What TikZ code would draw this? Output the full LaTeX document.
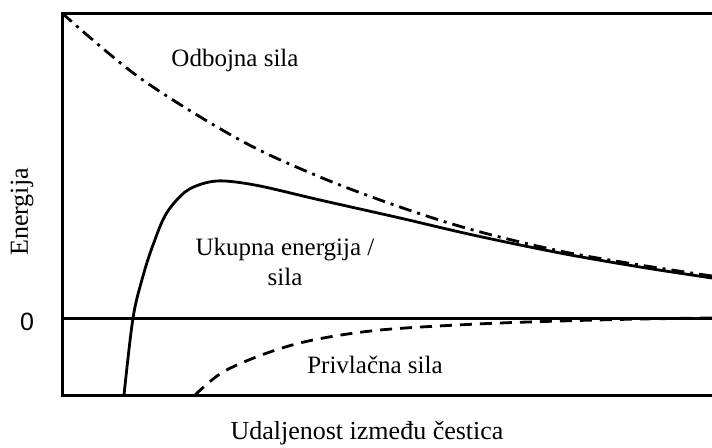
\documentclass[tikz,border=0pt]{standalone}
\usepackage{fontspec}
\setmainfont{Liberation Serif}
\newfontfamily\zerofont{Liberation Sans}
\usepackage{tikz}

\begin{document}
\begin{tikzpicture}[x=0.5pt, y=-0.5pt,
    frame/.style = {line width=1.5pt},
    curve/.style = {line width=1.4pt, smooth, tension=0.55},
    dashdot/.style = {dash pattern=on 6.5pt off 3pt on 1.5pt off 3pt},
    longdash/.style = {dash pattern=on 6pt off 4pt},
    lbl/.style = {font=\fontsize{12.5}{15}\selectfont, inner sep=0pt, align=center},
    axislbl/.style = {lbl, font=\fontsize{13}{15}\selectfont},
    ]
\useasboundingbox (0,0) rectangle (712,447);
% frame and zero line
\draw[frame] (712,13) -- (62,13) -- (62,395) -- (712,395);
\draw[frame] (62,318) -- (712,318);
% odbojna sila
\draw[curve, dashdot] plot coordinates {(62,13) (140,78) (240,140) (320,177)
    (400,207) (473,230) (560,251) (640,265) (712,276)};
% ukupna energija
\draw[curve] plot coordinates {(124,395) (133,318) (143,276) (153,245) (166,214)
    (185,192) (205,183) (225,181) (260,186) (320,200) (400,218) (473,235)
    (560,253) (640,267) (712,278)};
% privlacna sila
\draw[curve, longdash] plot coordinates {(195,395) (223,372) (267,353) (313,340)
    (380,330) (477,324) (560,321) (640,319) (712,318)};
% labels
\node[lbl] (odbojna) at (235,60) {Odbojna sila};
\node[lbl] (ukupna) at (285,262) {Ukupna energija /\\sila};
\node[lbl] (privlacna) at (375,365) {Privlačna sila};
\node[axislbl] (xos) at (367,433) {Udaljenost između čestica};
\node[axislbl, rotate=90] (yos) at (22,212) {Energija};
\node[lbl, font=\zerofont\fontsize{12.5}{15}\selectfont] (nula) at (27,322) {0};
\end{tikzpicture}
\end{document}
